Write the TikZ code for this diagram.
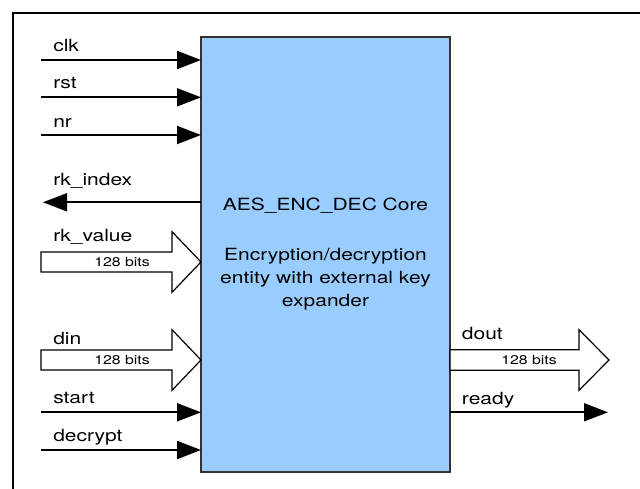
\documentclass[tikz,border=0pt]{standalone}
\usepackage{fontspec}
\setmainfont{TeX Gyre Heros}
\usepackage{graphicx}
\usetikzlibrary{arrows.meta}
\definecolor{corefill}{HTML}{99CCFF}
\definecolor{coreline}{HTML}{333333}
% labels are set a little wider than the font's natural width
\newcommand\wider[1]{\scalebox{1.25}[1]{#1}}

\begin{document}
\begin{tikzpicture}[x=0.75pt,y=-0.75pt,
  sig/.style={draw=black, line width=1.4pt},
  sigarrow/.style={sig, -{Triangle[length=18pt,width=13.5pt]}},
  lbl/.style={anchor=base west, inner sep=0pt, font=\fontsize{12.6}{15}\selectfont},
  bus/.style={draw=black, fill=white, line width=0.9pt, line join=miter},
  buslbl/.style={inner sep=0pt, font=\fontsize{9.5}{11}\selectfont},
  corebox/.style={draw=coreline, fill=corefill, line width=1pt, outer sep=0pt,
    minimum width=186.75pt, minimum height=326.25pt, align=center,
    font=\fontsize{12.6}{17.25}\selectfont}]
  \useasboundingbox (0,0) rectangle (640,489);

  % frame
  \draw[line width=1.9pt] (13,489) -- (13,13) -- (640,13);

  % core block
  \node[corebox] (core) at (325.5,254.5)
    {\wider{AES\_ENC\_DEC Core}\\[20.25pt]
     \wider{Encryption/decryption}\\
     \wider{entity with external key}\\
     \wider{expander}};

  % single-bit inputs
  \coordinate (clk-in) at (41,60);
  \coordinate (rst-in) at (41,97.3);
  \coordinate (nr-in) at (41,135);
  \coordinate (start-in) at (41,412.3);
  \coordinate (dec-in) at (41,450);
  \draw[sigarrow] (clk-in) -- (core.west |- clk-in);
  \draw[sigarrow] (rst-in) -- (core.west |- rst-in);
  \draw[sigarrow] (nr-in) -- (core.west |- nr-in);
  \draw[sigarrow] (start-in) -- (core.west |- start-in);
  \draw[sigarrow] (dec-in) -- (core.west |- dec-in);
  \node[lbl] (clk-lbl) at (53,51) {\wider{clk}};
  \node[lbl] (rst-lbl) at (53,89) {\wider{rst}};
  \node[lbl] (nr-lbl) at (53,127) {\wider{nr}};
  \node[lbl] (start-lbl) at (53,403.5) {\wider{start}};
  \node[lbl] (dec-lbl) at (53,441) {\wider{decrypt}};

  % single-bit outputs
  \coordinate (rki-out) at (43,202.3);
  \coordinate (rdy-out) at (608,412.3);
  \draw[sigarrow] (core.west |- rki-out) -- (rki-out);
  \draw[sigarrow] (core.east |- rdy-out) -- (rdy-out);
  \node[lbl] (rki-lbl) at (53,185.7) {\wider{rk\_index}};
  \node[lbl] (rdy-lbl) at (461.7,404) {\wider{ready}};

  % 128-bit buses
  \coordinate (rkv-in) at (41,262);
  \coordinate (din-in) at (41,360);
  \coordinate (dout-out) at (609,360);
  \draw[bus] (rkv-in) ++(0,-10) -- ++(131,0) -- ++(0,-20.3)
    -- (core.west |- rkv-in) -- ++(-29,30.3) -- ++(0,-20.3) -- ++(-131,0) -- cycle;
  \draw[bus] (din-in) ++(0,-10) -- ++(131,0) -- ++(0,-20.3)
    -- (core.west |- din-in) -- ++(-29,30.3) -- ++(0,-20.3) -- ++(-131,0) -- cycle;
  \draw[bus] (core.east |- dout-out) ++(0,-10.3) -- ++(129,0) -- ++(0,-20)
    -- (dout-out) -- ++(-30,30.3) -- ++(0,-20) -- ++(-129,0) -- cycle;
  \node[lbl] (rkv-lbl) at (53,241.7) {\wider{rk\_value}};
  \node[lbl] (din-lbl) at (53,344) {\wider{din}};
  \node[lbl] (dout-lbl) at (461.7,339.3) {\wider{dout}};
  \node[buslbl] (rkv-w) at (122,262) {\wider{128 bits}};
  \node[buslbl] (din-w) at (122,360) {\wider{128 bits}};
  \node[buslbl] (dout-w) at (529,360) {\wider{128 bits}};
\end{tikzpicture}
\end{document}
